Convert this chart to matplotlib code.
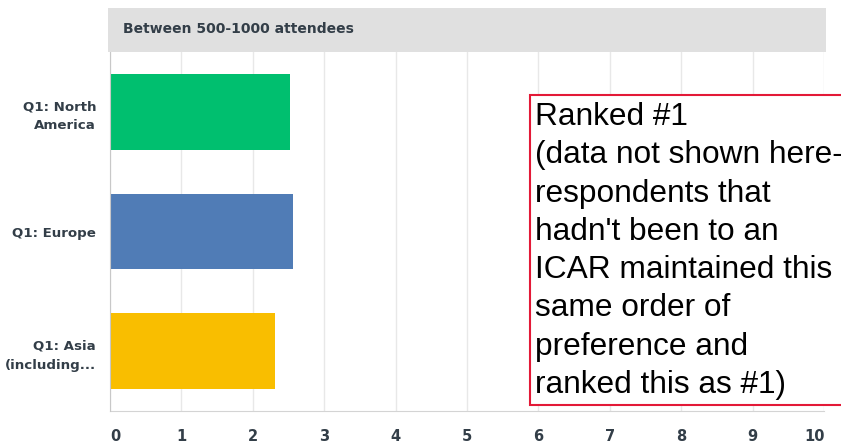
import matplotlib.pyplot as plt
from matplotlib.patches import Rectangle
from matplotlib.transforms import ScaledTranslation

categories = ["Q1: North\nAmerica", "Q1: Europe", "Q1: Asia\n(including..."]
values = [2.52, 2.56, 2.31]
colors = ["#00bf6f", "#507cb6", "#f9be00"]
xticks = list(range(0, 11))
header = "Between 500-1000 attendees"
note = ("Ranked #1\n(data not shown here-\nrespondents that\nhadn't been to an\n"
        "ICAR maintained this\nsame order of\npreference and\nranked this as #1)")

W, H = 841, 447
fig = plt.figure(figsize=(W / 100, H / 100), dpi=100)

# plot area in pixel coords
x0, x1, y_top, y_bot = 110, 824, 52, 411
ax = fig.add_axes([x0 / W, 1 - y_bot / H, (x1 - x0) / W, (y_bot - y_top) / H])

ypos = list(range(len(categories)))
ax.barh(ypos, values, height=0.63, color=colors, zorder=3)
ax.set_ylim(len(categories) - 0.5, -0.5)
ax.set_xlim(0, 10)
ax.set_xticks(xticks)
ax.set_yticks(ypos)
ax.set_yticklabels(categories, fontsize=9.6, fontweight="bold", color="#333e48",
                   linespacing=1.6)
ax.set_xticklabels([str(t) for t in xticks], fontsize=10.5, fontweight="bold",
                   color="#333e48")
ax.tick_params(axis="both", length=0)
ax.tick_params(axis="x", pad=13)
ax.tick_params(axis="y", pad=10)
ax.grid(True, axis="x", color="#e8e8e8", linewidth=1, zorder=0)
for s in ("top", "right"):
    ax.spines[s].set_visible(False)
ax.spines["left"].set_color("#c8c8c8")
ax.spines["bottom"].set_color("#d4d4d4")
ax.spines["left"].set_zorder(4)

# end labels sit slightly inside the plot area
xlabels = ax.get_xticklabels()
xlabels[0].set_transform(xlabels[0].get_transform()
                         + ScaledTranslation(5 / 100, 0, fig.dpi_scale_trans))
xlabels[-1].set_transform(xlabels[-1].get_transform()
                          + ScaledTranslation(-9 / 100, 0, fig.dpi_scale_trans))

# header band
fig.patches.append(Rectangle((108 / W, 1 - 52 / H), (826 - 108) / W, 44 / H,
                             transform=fig.transFigure, facecolor="#e0e0e0",
                             edgecolor="none", zorder=0))
fig.text(123 / W, 1 - 29 / H, header, fontsize=10, fontweight="bold",
         color="#333e48", va="center", ha="left")

# annotation box (cut off by the right edge, as in the original)
fig.patches.append(Rectangle((530 / W, 1 - 405 / H), 400 / W, 310 / H,
                             transform=fig.transFigure, facecolor="white",
                             edgecolor="#e31937", linewidth=1.5, zorder=5))
fig.text(535 / W, 1 - 102 / H, note, fontsize=22.8, family="Liberation Sans",
         color="black", va="top", ha="left", linespacing=1.36, zorder=6)

fig.savefig("out.png", dpi=100)
